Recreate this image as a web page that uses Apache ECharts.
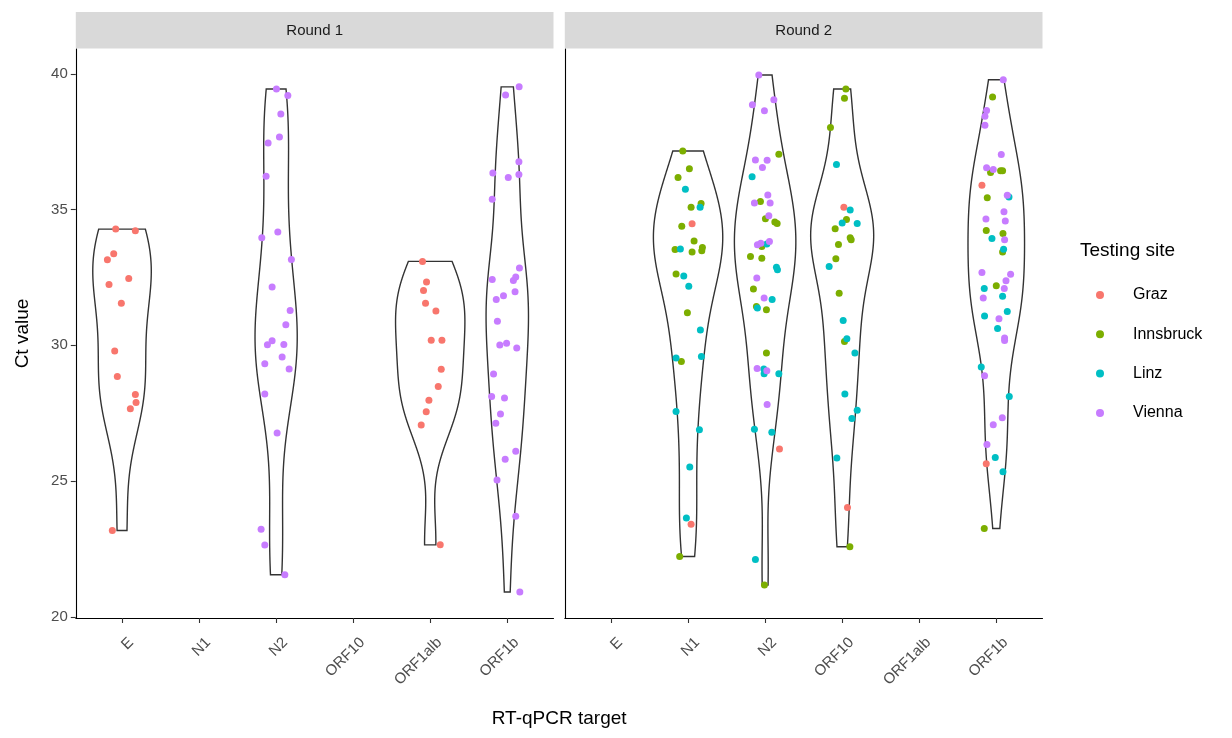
<!DOCTYPE html>
<html><head><meta charset="utf-8">
<script src="https://cdn.jsdelivr.net/npm/echarts@6/dist/echarts.min.js"></script>
<style>html,body{margin:0;padding:0;background:#fff}#c{width:1232px;height:738px}</style>
</head><body><div id="c"></div>
<script>
// ---------- data ----------
const categories = ['E','N1','N2','ORF10','ORF1alb','ORF1b'];
const rounds = ['Round 1','Round 2'];
const sites = ['Graz','Innsbruck','Linz','Vienna'];
const siteCodes = ['G','I','L','V'];
const siteColors = ['#F8766D','#7CAE00','#00BFC4','#C77CFF'];
const yTicks = [20,25,30,35,40];

// Round 1, E
const r1E_ct = [34.28,34.22,33.37,33.15,32.46,32.24,31.55,29.79,28.85,28.19,27.89,27.66,23.18];
const r1E_jit = [-0.082,0.173,-0.108,-0.19,0.087,-0.169,-0.009,-0.095,-0.061,0.173,0.182,0.108,-0.126];
const r1E_site = 'GGGGGGGGGGGGG';
// Round 1, N2
const r1N2_ct = [39.44,39.20,38.52,37.67,37.45,36.23,34.17,33.96,33.16,32.15,31.28,30.76,30.17,30.02,30.03,29.57,29.32,29.13,28.21,26.77,23.22,22.64,21.55];
const r1N2_jit = [0.004,0.152,0.061,0.043,-0.104,-0.13,0.022,-0.186,0.198,-0.052,0.182,0.126,-0.052,-0.113,0.1,0.078,-0.147,0.169,-0.147,0.013,-0.195,-0.147,0.113];
const r1N2_site = 'VVVVVVVVVVVVVVVVVVVVVVV';
// Round 1, ORF1alb
const r1O1a_ct = [33.09,32.33,32.02,31.55,31.26,30.19,30.19,29.12,28.48,27.98,27.55,27.06,22.65];
const r1O1a_jit = [-0.1,-0.048,-0.087,-0.061,0.074,0.013,0.152,0.143,0.104,-0.017,-0.052,-0.117,0.13];
const r1O1a_site = 'GGGGGGGGGGGGG';
// Round 1, ORF1b
const r1O1b_ct = [39.52,39.22,36.76,36.35,36.18,36.29,35.38,32.85,32.42,32.52,32.39,31.83,31.69,31.97,30.89,30.01,30.08,29.90,28.94,28.11,28.06,27.47,27.13,26.10,25.80,25.04,23.70,20.91];
const r1O1b_jit = [0.154,-0.022,0.151,-0.187,0.013,0.151,-0.195,0.158,-0.195,0.110,0.079,-0.049,-0.143,0.101,-0.128,-0.097,-0.009,0.123,-0.178,-0.203,-0.036,-0.088,-0.149,0.110,-0.027,-0.133,0.110,0.163];
const r1O1b_site = 'VVVVVVVVVVVVVVVVVVVVVVVVVVVV';

// Round 2, N1
const r2N1_ct = [37.16,36.50,36.18,35.75,35.22,35.09,35.09,34.48,34.39,33.84,33.53,33.55,33.44,33.60,33.48,32.63,32.55,32.18,31.20,30.56,29.53,29.40,29.59,27.56,26.89,25.52,23.64,23.41,22.22];
const r2N1_jit = [-0.069,0.017,-0.13,-0.035,0.169,0.156,0.039,0.052,-0.082,0.078,-0.169,-0.100,0.052,0.186,0.178,-0.156,-0.056,0.009,-0.009,0.160,-0.156,-0.087,0.173,-0.156,0.147,0.022,-0.022,0.039,-0.109];
const r2N1_site = 'IIILILIGIIILIIIILLILLILLLLLGI';
// Round 2, N2
const r2N2_ct = [39.96,39.05,38.86,38.64,37.04,36.83,36.82,36.55,36.21,35.54,35.24,35.30,35.24,34.77,34.66,34.54,34.49,33.82,33.70,33.76,33.64,33.73,33.27,33.21,32.88,32.78,32.48,32.07,31.74,31.69,31.43,31.37,31.31,29.72,29.15,29.13,29.06,28.95,28.95,27.82,26.91,26.80,26.18,22.11,21.17];
const r2N2_jit = [-0.082,0.113,-0.165,-0.009,0.178,-0.126,0.026,-0.035,-0.169,0.035,-0.139,-0.061,0.065,0.048,0.004,0.126,0.156,0.056,-0.100,-0.056,-0.043,0.022,-0.190,-0.043,0.147,0.160,-0.108,-0.152,-0.013,0.091,-0.113,-0.100,0.017,0.017,-0.104,-0.017,0.022,-0.013,0.178,0.026,-0.139,0.087,0.186,-0.126,-0.009];
const r2N2_site = 'VVVVIVVVLVVIVVIIIVVVILIILLVIVLILIIVLVLLVLLGLI';
// Round 2, ORF10
const r2O10_ct = [39.44,39.10,38.02,36.66,35.09,34.98,34.51,34.63,34.49,34.29,33.96,33.89,33.71,33.19,32.90,31.92,30.91,30.14,30.24,29.72,28.21,27.61,27.30,25.85,24.03,22.58];
const r2O10_jit = [0.048,0.030,-0.152,-0.074,0.022,0.104,0,0.056,0.195,-0.091,0.104,0.117,-0.048,-0.082,-0.169,-0.039,0.013,0.030,0.061,0.165,0.035,0.195,0.126,-0.069,0.069,0.100];
const r2O10_site = 'IIILGLLILIIIIILILILLLLLLGI';
// Round 2, ORF1b
const r2O1b_ct = [39.78,39.15,38.65,38.44,38.11,37.03,36.54,36.37,36.48,36.43,36.43,35.90,35.44,35.53,35.46,34.92,34.65,34.58,34.23,34.12,33.93,33.89,33.54,33.44,32.68,32.62,32.38,32.19,32.09,32.09,31.74,31.81,31.08,30.98,31.25,30.62,30.27,30.18,29.20,28.88,28.11,27.33,27.07,26.35,25.87,25.64,25.34,23.25];
const r2O1b_jit = [0.091,-0.048,-0.126,-0.147,-0.147,0.065,-0.126,-0.074,-0.039,0.056,0.082,-0.186,-0.117,0.143,0.165,0.100,-0.134,0.117,-0.130,0.087,-0.056,0.108,0.095,0.082,-0.186,0.186,0.126,0,0.104,-0.156,-0.169,0.082,-0.152,0.035,0.143,0.017,0.108,0.108,-0.195,-0.152,0.169,0.078,-0.039,-0.121,-0.013,-0.130,0.087,-0.156];
const r2O1b_site = 'VIVVVVVIVIIGIVLVVVIILVLIVVVIVLVLLVLLVVLVLVVVLGLI';

const groups = [
  {panel:0, cat:0, ct:r1E_ct,  jit:r1E_jit,  site:r1E_site},
  {panel:0, cat:2, ct:r1N2_ct, jit:r1N2_jit, site:r1N2_site},
  {panel:0, cat:4, ct:r1O1a_ct,jit:r1O1a_jit,site:r1O1a_site},
  {panel:0, cat:5, ct:r1O1b_ct,jit:r1O1b_jit,site:r1O1b_site},
  {panel:1, cat:1, ct:r2N1_ct, jit:r2N1_jit, site:r2N1_site},
  {panel:1, cat:2, ct:r2N2_ct, jit:r2N2_jit, site:r2N2_site},
  {panel:1, cat:3, ct:r2O10_ct,jit:r2O10_jit,site:r2O10_site},
  {panel:1, cat:5, ct:r2O1b_ct,jit:r2O1b_jit,site:r2O1b_site}
];

// ---------- violin density (gaussian KDE, bw.nrd0, trimmed, area-scaled per panel) ----------
function q7(s,p){const h=(s.length-1)*p,lo=Math.floor(h),hi=Math.min(lo+1,s.length-1);return s[lo]+(h-lo)*(s[hi]-s[lo]);}
function bwNrd0(x){
  const n=x.length, m=x.reduce((a,b)=>a+b,0)/n;
  const sd=Math.sqrt(x.reduce((a,b)=>a+(b-m)*(b-m),0)/(n-1));
  const s=[...x].sort((a,b)=>a-b);
  let lo=Math.min(sd,(q7(s,0.75)-q7(s,0.25))/1.34);
  if(!(lo>0)) lo = sd || 1;
  return 0.9*lo*Math.pow(n,-0.2);
}
function kde(x){
  const bw=bwNrd0(x), n=x.length, mn=Math.min(...x), mx=Math.max(...x), N=512;
  const ys=[], ds=[];
  for(let i=0;i<N;i++){
    const y=mn+(mx-mn)*i/(N-1); let d=0;
    for(const v of x){const z=(y-v)/bw; d+=Math.exp(-0.5*z*z);}
    ys.push(y); ds.push(d/(n*bw*Math.sqrt(2*Math.PI)));
  }
  return {ys, ds};
}
groups.forEach(g=>{const k=kde(g.ct); g.ys=k.ys; g.ds=k.ds;});
[0,1].forEach(p=>{
  const gs=groups.filter(g=>g.panel===p);
  const mx=Math.max(...gs.map(g=>Math.max(...g.ds)));
  gs.forEach(g=>{g.w=g.ds.map(d=>d/mx);});
});

// ---------- layout ----------
const PANEL_W = 477.7, PANELS_LEFT = [75.8, 564.8], TOP = 49, BOTTOM_Y = 618;
const FONT = '"Liberation Sans", Arial, sans-serif';

const grids=[], xAxes=[], yAxes=[], series=[];
[0,1].forEach(p=>{
  grids.push({left:PANELS_LEFT[p], top:TOP, width:PANEL_W, height:BOTTOM_Y-TOP, containLabel:false});
  xAxes.push({
    type:'value', gridIndex:p, min:-0.6, max:5.6,
    splitLine:{show:false},
    axisLine:{show:true, onZero:false, lineStyle:{color:'#000', width:1.1}},
    axisTick:{show:true, customValues:[0,1,2,3,4,5], length:5, lineStyle:{color:'#333', width:1.1}},
    axisLabel:{show:true, customValues:[0,1,2,3,4,5], formatter:v=>categories[Math.round(v)],
      rotate:45, margin:13, align:'right', verticalAlign:'top', lineHeight:26,
      color:'#4D4D4D', fontSize:15, fontFamily:FONT}
  });
  yAxes.push({
    type:'value', gridIndex:p, min:19.955, max:40.915,
    splitLine:{show:false},
    axisLine:{show:true, onZero:false, lineStyle:{color:'#000', width:1.1}},
    axisTick:{show:p===0, customValues:yTicks, length:5, lineStyle:{color:'#333', width:1.1}},
    axisLabel:{show:p===0, customValues:yTicks, margin:8, color:'#4D4D4D', fontSize:15, fontFamily:FONT},
    name: p===0 ? 'Ct value' : '', nameLocation:'middle', nameGap:44, nameRotate:90,
    nameTextStyle:{color:'#000', fontSize:19, fontFamily:FONT}
  });
  const pg = groups.filter(g=>g.panel===p);
  series.push({
    type:'custom', xAxisIndex:p, yAxisIndex:p, z:1, silent:true,
    data: pg.map(g=>[g.cat, Math.min(...g.ct)]),
    renderItem:function(params, api){
      const g = pg[params.dataIndex], pts=[];
      for(let i=0;i<g.ys.length;i++) pts.push(api.coord([g.cat+0.45*g.w[i], g.ys[i]]));
      for(let i=g.ys.length-1;i>=0;i--) pts.push(api.coord([g.cat-0.45*g.w[i], g.ys[i]]));
      return {type:'polygon', shape:{points:pts}, style:{fill:'#fff', stroke:'#333', lineWidth:1.4}};
    }
  });
  siteCodes.forEach((sc,si)=>{
    const data=[];
    pg.forEach(g=>{g.ct.forEach((v,i)=>{ if(g.site[i]===sc) data.push([g.cat+g.jit[i], v]); });});
    series.push({
      type:'scatter', name:sites[si], xAxisIndex:p, yAxisIndex:p, z:2,
      symbol:'circle', symbolSize:7, data,
      itemStyle:{color:siteColors[si], opacity:1},
      emphasis:{disabled:true}
    });
  });
});

const chart = echarts.init(document.getElementById('c'), null, {renderer:'canvas'});
chart.setOption({
  animation:false,
  backgroundColor:'#fff',
  textStyle:{fontFamily:FONT},
  grid:grids, xAxis:xAxes, yAxis:yAxes, series,
  title:{text:'Testing site', left:1080, top:241, padding:0,
    textStyle:{color:'#000', fontSize:19, fontWeight:'normal', fontFamily:FONT}},
  legend:{
    data:sites, orient:'vertical', left:1091, top:280, itemGap:19.3,
    itemWidth:8, itemHeight:8, icon:'circle', selectedMode:false,
    textStyle:{color:'#000', fontSize:16, fontFamily:FONT, lineHeight:20, padding:[0,0,0,24]}
  },
  graphic:[
    ...[0,1].map(p=>({type:'rect', silent:true, shape:{x:PANELS_LEFT[p], y:12, width:PANEL_W, height:36.5}, style:{fill:'#D9D9D9'}})),
    ...[0,1].map(p=>({type:'text', silent:true, x:PANELS_LEFT[p]+PANEL_W/2, y:30.5,
      style:{text:rounds[p], fill:'#1A1A1A', font:'15px '+FONT, textAlign:'center', textVerticalAlign:'middle'}})),
    {type:'text', silent:true, x:(PANELS_LEFT[0]+PANELS_LEFT[1]+PANEL_W)/2, y:719,
      style:{text:'RT-qPCR target', fill:'#000', font:'19px '+FONT, textAlign:'center', textVerticalAlign:'middle'}}
  ]
});
</script>
</body></html>
